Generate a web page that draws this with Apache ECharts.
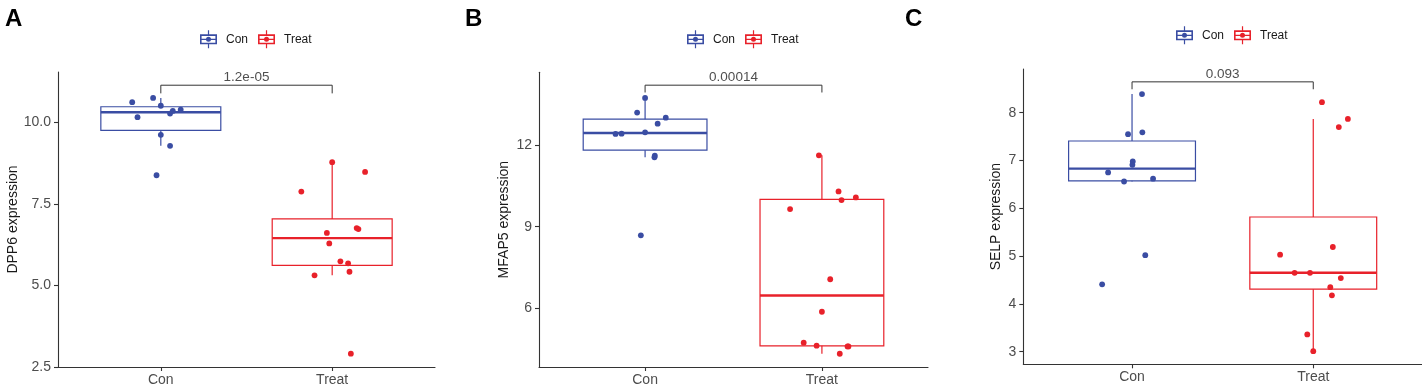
<!DOCTYPE html>
<html>
<head>
<meta charset="utf-8">
<script src="https://cdn.jsdelivr.net/npm/echarts@6/dist/echarts.min.js"></script>
<style>html,body{margin:0;padding:0;background:#fff}#c{width:1422px;height:387px}</style>
</head>
<body>
<div id="c"></div>
<script>
// ---------- data ----------
const categories = ['Con', 'Treat'];
const panelLetters = ['A', 'B', 'C'];
const genes = ['DPP6', 'MFAP5', 'SELP'];
const pTexts = ['1.2e-05', '0.00014', '0.093'];

// panel A (DPP6)
const conA = [10.62, 10.75, 10.51, 10.16, 10.27, 10.35, 10.39, 9.62, 9.28, 8.38];
const treatA = [8.78, 8.48, 7.88, 6.61, 6.76, 6.73, 6.29, 5.74, 5.68, 5.31, 5.42, 2.91];
// panel B (MFAP5)
const conB = [13.75, 13.21, 13.02, 12.80, 12.42, 12.43, 12.48, 11.62, 11.56, 8.68];
const treatB = [11.63, 10.30, 10.08, 9.98, 9.65, 7.06, 5.86, 4.72, 4.61, 4.58, 4.58, 4.31];
// panel C (SELP)
const conC = [8.39, 7.55, 7.59, 6.98, 6.91, 6.75, 6.56, 6.62, 5.02, 4.41];
const treatC = [8.22, 7.87, 7.70, 5.19, 5.03, 4.65, 4.65, 4.54, 4.35, 4.18, 3.36, 3.01];

// horizontal jitter (category units)
const conJitA = [-0.167, -0.045, 0, -0.136, 0.054, 0.070, 0.116, 0, 0.054, -0.025];
const treatJitA = [0, 0.192, -0.180, -0.031, 0.143, 0.153, -0.017, 0.048, 0.093, -0.103, 0.101, 0.109];
const conJitB = [0, -0.045, 0.117, 0.071, -0.167, -0.133, 0, 0.055, 0.053, -0.024];
const treatJitB = [-0.017, 0.094, 0.192, 0.111, -0.180, 0.047, 0, -0.103, -0.030, 0.145, 0.150, 0.101];
const conJitC = [0.055, -0.022, 0.057, 0.004, 0.002, -0.132, -0.044, 0.116, 0.073, -0.165];
const treatJitC = [0.048, 0.191, 0.141, 0.108, -0.183, -0.103, -0.018, 0.152, 0.094, 0.103, -0.033, 0];

// y tick labels
const yTicksA = [2.5, 5.0, 7.5, 10.0];
const yTicksB = [6, 9, 12];
const yTicksC = [3, 4, 5, 6, 7, 8];

// axis ranges
const yMinA = 2.5, yMaxA = 11.545;
const yMinB = 3.822, yMaxB = 14.695;
const yMinC = 2.736, yMaxC = 8.914;

// comparison bracket heights (data units)
const bracketTopA = 11.14, bracketFootA = 10.89;
const bracketTopB = 14.22, bracketFootB = 13.95;
const bracketTopC = 8.645, bracketFootC = 8.49;

// ---------- helpers ----------
function quantile(sorted, p) {
  const h = (sorted.length - 1) * p;
  const lo = Math.floor(h), hi = Math.ceil(h);
  return sorted[lo] + (h - lo) * (sorted[hi] - sorted[lo]);
}
function boxStats(vals) {
  const s = vals.slice().sort((a, b) => a - b);
  const q1 = quantile(s, 0.25), med = quantile(s, 0.5), q3 = quantile(s, 0.75);
  const iqr = q3 - q1;
  const lowF = q1 - 1.5 * iqr, highF = q3 + 1.5 * iqr;
  const wLo = Math.min(...s.filter(v => v >= lowF));
  const wHi = Math.max(...s.filter(v => v <= highF));
  return [wLo, q1, med, q3, wHi];
}

const COLORS = ['#3A4DA3', '#E8212A'];
const FONT = '"Liberation Sans", Arial, Helvetica, sans-serif';
const BOX_W = 0.7;

const panels = [
  { con: conA, treat: treatA, cj: conJitA, tj: treatJitA, ticks: yTicksA, min: yMinA, max: yMaxA,
    bt: bracketTopA, bf: bracketFootA, fmt: v => v.toFixed(1),
    grid: { left: 58, top: 72, width: 377, height: 296.3 }, nameGap: 37, legend: { left: 195, top: 25.3 }, letterLeft: 0 },
  { con: conB, treat: treatB, cj: conJitB, tj: treatJitB, ticks: yTicksB, min: yMinB, max: yMaxB,
    bt: bracketTopB, bf: bracketFootB, fmt: v => String(v),
    grid: { left: 539, top: 72.3, width: 389, height: 296 }, nameGap: 28, legend: { left: 682, top: 25.3 }, letterLeft: 460 },
  { con: conC, treat: treatC, cj: conJitC, tj: treatJitC, ticks: yTicksC, min: yMinC, max: yMaxC,
    bt: bracketTopC, bf: bracketFootC, fmt: v => String(v),
    grid: { left: 1023.3, top: 69, width: 399.5, height: 295.3 }, nameGap: 20, legend: { left: 1171, top: 21.3 }, letterLeft: 900 }
];

const ICON = 'path://M0 4H17V14H0Z M1.6 5.6V12.4H15.4V5.6Z M7.9 0H9.1V4H7.9Z M7.9 14H9.1V18H7.9Z M1.6 8.4H15.4V9.6H1.6Z M6 9A2.5 2.5 0 1 1 11 9A2.5 2.5 0 1 1 6 9Z';

function renderBox(params, api) {
  const x = api.value(0);
  const s = [api.value(1), api.value(2), api.value(3), api.value(4), api.value(5)];
  const color = api.visual('color');
  const half = api.size([BOX_W, 0])[0] / 2;
  const cx = api.coord([x, s[2]])[0];
  const y = s.map(v => api.coord([x, v])[1]);
  return {
    type: 'group',
    children: [
      { type: 'line', shape: { x1: cx, y1: y[4], x2: cx, y2: y[3] }, style: { stroke: color, lineWidth: 1.2 } },
      { type: 'line', shape: { x1: cx, y1: y[1], x2: cx, y2: y[0] }, style: { stroke: color, lineWidth: 1.2 } },
      { type: 'rect', shape: { x: cx - half, y: y[3], width: 2 * half, height: y[1] - y[3] }, style: { fill: 'none', stroke: color, lineWidth: 1.2 } },
      { type: 'line', shape: { x1: cx - half, y1: y[2], x2: cx + half, y2: y[2] }, style: { stroke: color, lineWidth: 2.4 } }
    ]
  };
}

const option = {
  animation: false,
  backgroundColor: '#fff',
  textStyle: { fontFamily: FONT },
  title: [], legend: [], grid: [], xAxis: [], yAxis: [], series: []
};

panels.forEach((p, i) => {
  option.title.push({ text: panelLetters[i], left: p.letterLeft, top: 2,
    textStyle: { fontSize: 24, fontWeight: 'bold', color: '#000', fontFamily: FONT } });
  option.legend.push({
    left: p.legend.left, top: p.legend.top, itemWidth: 17, itemHeight: 18, itemGap: 10,
    textStyle: { fontSize: 12, color: '#1a1a1a', fontFamily: FONT, padding: [0, 0, 0, 4] },
    selectedMode: false,
    data: categories.map((c, k) => ({ name: c, icon: ICON, itemStyle: { color: COLORS[k] } }))
  });
  option.grid.push(Object.assign({ containLabel: false }, p.grid));
  option.xAxis.push({
    gridIndex: i, type: 'value', min: -0.6, max: 1.6,
    axisLine: { show: true, onZero: false, lineStyle: { color: '#333', width: 1.1 } },
    axisTick: { show: true, customValues: [0, 1], length: 4, lineStyle: { color: '#333', width: 1.1 } },
    axisLabel: { customValues: [0, 1], formatter: v => categories[Math.round(v)], fontSize: 14, color: '#4d4d4d', margin: 6, fontFamily: FONT },
    splitLine: { show: false }
  });
  option.yAxis.push({
    gridIndex: i, type: 'value', min: p.min, max: p.max,
    name: genes[i] + ' expression', nameLocation: 'middle', nameGap: p.nameGap,
    nameTextStyle: { fontSize: 14, color: '#1a1a1a', fontFamily: FONT },
    axisLine: { show: true, onZero: false, lineStyle: { color: '#333', width: 1.1 } },
    axisTick: { show: true, customValues: p.ticks, length: 4, lineStyle: { color: '#333', width: 1.1 } },
    axisLabel: { customValues: p.ticks, formatter: p.fmt, fontSize: 14, color: '#4d4d4d', margin: 7, fontFamily: FONT },
    splitLine: { show: false }
  });
  const groups = [p.con, p.treat];
  const jits = [p.cj, p.tj];
  groups.forEach((vals, g) => {
    option.series.push({
      type: 'custom', name: categories[g], xAxisIndex: i, yAxisIndex: i, z: 2,
      renderItem: renderBox, itemStyle: { color: COLORS[g] },
      encode: { x: 0, y: [1, 2, 3, 4, 5] },
      data: [[g].concat(boxStats(vals))]
    });
  });
  groups.forEach((vals, g) => {
    option.series.push({
      type: 'scatter', name: categories[g], xAxisIndex: i, yAxisIndex: i, z: 3,
      symbol: 'circle', symbolSize: 5.8, itemStyle: { color: COLORS[g], opacity: 1 },
      data: vals.map((v, k) => [g + jits[g][k], v])
    });
  });
  option.series.push({
    type: 'line', xAxisIndex: i, yAxisIndex: i, z: 4, symbol: 'none', silent: true,
    lineStyle: { color: '#333', width: 1 },
    data: [[0, p.bf], [0, p.bt], [1, p.bt], [1, p.bf]]
  });
  option.series.push({
    type: 'scatter', xAxisIndex: i, yAxisIndex: i, z: 4, symbolSize: 0, silent: true,
    label: { show: true, position: 'top', distance: 1, formatter: pTexts[i], fontSize: 13.5, color: '#222', fontFamily: FONT },
    data: [[0.5, p.bt]]
  });
});

const chart = echarts.init(document.getElementById('c'), null, { renderer: 'canvas' });
chart.setOption(option);
</script>
</body>
</html>
